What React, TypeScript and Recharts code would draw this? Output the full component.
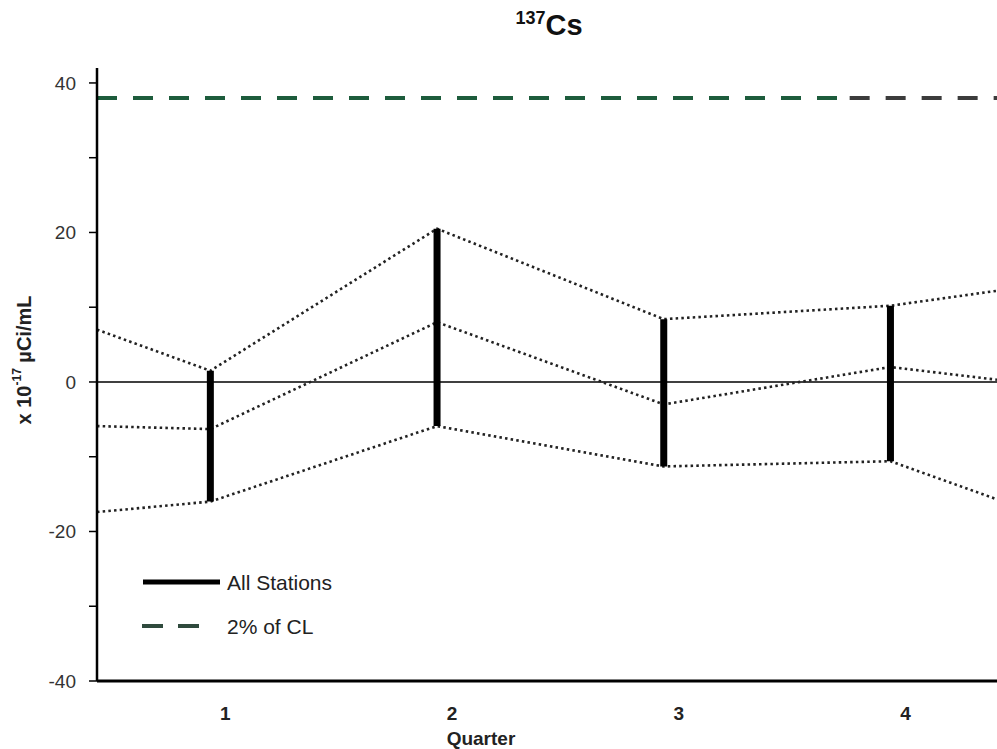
import React from "react";
import {
  ComposedChart,
  Line,
  XAxis,
  YAxis,
  ReferenceLine,
  Legend,
} from "recharts";

// quarters with a station range bar
const quarters = [1, 2, 3, 4];
const highs = [1.5, 20.5, 8.4, 10.2];
const lows = [-16, -5.9, -11.3, -10.6];

// dotted trend lines, running past the first and last quarter to the frame edges
const lineX = [0.5, 1, 2, 3, 4, 4.47];
const upperLine = [7, 1.5, 20.5, 8.4, 10.2, 12.2];
const meanLine = [-5.9, -6.3, 8, -3, 2, 0.3];
const lowerLine = [-17.4, -16, -5.9, -11.3, -10.6, -15.7];

// 2% of concentration limit
const clLevel = 38;
const clGreenRange = [0.5, 3.82];
const clGreyRange = [3.82, 4.47];

const yTicks = [-40, -30, -20, -10, 0, 10, 20, 30, 40];
const xDomain = [0.5, 4.47];
const yDomain = [-40, 42];

const legendItems = [
  { label: "All Stations", kind: "solid" },
  { label: "2% of CL", kind: "dashed" },
];

const FONT = "'Liberation Sans', Arial, sans-serif";
const GREEN = "#1d5c3c";

const data = lineX.map((x, i) => ({
  x,
  upper: upperLine[i],
  mean: meanLine[i],
  lower: lowerLine[i],
}));

function YTick(props: any) {
  const { x, y, payload } = props;
  if (payload.value % 20 !== 0) return null;
  return (
    <text
      x={x - 11}
      y={y}
      dy="0.36em"
      textAnchor="end"
      fontSize={19}
      fill="#333"
      fontFamily={FONT}
    >
      {payload.value}
    </text>
  );
}

function XTick(props: any) {
  const { x, y, payload } = props;
  return (
    <text
      x={x + 15}
      y={y + 31}
      textAnchor="middle"
      fontSize={19}
      fontWeight="bold"
      fill="#222"
      fontFamily={FONT}
    >
      {payload.value}
    </text>
  );
}

function XLabel() {
  return (
    <text
      x={481}
      y={745}
      textAnchor="middle"
      fontSize={19}
      fontWeight="bold"
      fill="#222"
      fontFamily={FONT}
    >
      Quarter
    </text>
  );
}

function YLabel(props: any) {
  const vb = props.viewBox || { x: 37, y: 68, width: 60, height: 613 };
  const cx = vb.x - 13;
  const cy = 360;
  return (
    <text
      x={cx}
      y={cy}
      transform={`rotate(-90, ${cx}, ${cy})`}
      textAnchor="middle"
      dominantBaseline="central"
      fontSize={20}
      fontWeight="bold"
      fill="#222"
      fontFamily={FONT}
    >
      <tspan>x 10</tspan>
      <tspan fontSize={12} dy={-7}>
        -17
      </tspan>
      <tspan dy={7}> µCi/mL</tspan>
    </text>
  );
}

function LegendBox() {
  return (
    <svg width={260} height={70} style={{ display: "block" }}>
      {legendItems.map((item, i) => {
        const y = 12 + i * 44;
        return (
          <g key={item.label}>
            {item.kind === "solid" ? (
              <line x1={3} x2={80} y1={y} y2={y} stroke="#000" strokeWidth={5} />
            ) : (
              <line
                x1={2}
                x2={60}
                y1={y}
                y2={y}
                stroke="#2f4a3d"
                strokeWidth={4}
                strokeDasharray="21 15"
              />
            )}
            <text
              x={87}
              y={y}
              dy="0.36em"
              fontSize={21}
              fill="#222"
              fontFamily={FONT}
            >
              {item.label}
            </text>
          </g>
        );
      })}
    </svg>
  );
}

export default function App() {
  return (
    <div
      style={{
        position: "absolute",
        left: 0,
        top: 0,
        width: 997,
        height: 749,
        background: "#fff",
        overflow: "hidden",
      }}
    >
      <div
        style={{
          position: "absolute",
          left: 449,
          width: 200,
          top: 8,
          textAlign: "center",
          fontFamily: FONT,
          fontWeight: "bold",
          color: "#111",
          zIndex: 2,
        }}
      >
        <span style={{ fontSize: 18, verticalAlign: "11px" }}>137</span>
        <span style={{ fontSize: 29 }}>Cs</span>
      </div>
      <ComposedChart
        width={997}
        height={749}
        data={data}
        margin={{ top: 68, right: 0, bottom: 0, left: 37 }}
      >
        <XAxis
          xAxisId="top"
          orientation="top"
          dataKey="x"
          type="number"
          domain={xDomain}
          allowDataOverflow
          height={0}
          tick={false}
          tickLine={false}
          axisLine={{ stroke: "#000", strokeWidth: 2.5 }}
        />
        <XAxis
          dataKey="x"
          type="number"
          domain={xDomain}
          ticks={quarters}
          allowDataOverflow
          height={68}
          tickLine={false}
          tick={<XTick />}
          axisLine={{ stroke: "#000", strokeWidth: 3 }}
          label={<XLabel />}
        />
        <YAxis
          type="number"
          domain={yDomain}
          ticks={yTicks}
          allowDataOverflow
          width={60}
          tickSize={8}
          tickLine={{ stroke: "#000", strokeWidth: 1.5 }}
          tick={<YTick />}
          axisLine={{ stroke: "#000", strokeWidth: 2.5 }}
          label={<YLabel />}
        />
        <ReferenceLine y={0} stroke="#000" strokeWidth={1.5} />
        <ReferenceLine
          segment={[
            { x: clGreenRange[0], y: clLevel },
            { x: clGreenRange[1], y: clLevel },
          ]}
          stroke={GREEN}
          strokeWidth={4}
          strokeDasharray="20 16"
        />
        <ReferenceLine
          segment={[
            { x: clGreyRange[0], y: clLevel },
            { x: clGreyRange[1], y: clLevel },
          ]}
          stroke="#3c3c3c"
          strokeWidth={4}
          strokeDasharray="20 16"
        />
        {["upper", "mean", "lower"].map((key) => (
          <Line
            key={key}
            dataKey={key}
            type="linear"
            stroke="#222"
            strokeWidth={2.6}
            strokeDasharray="2.5 3.2"
            dot={false}
            activeDot={false}
            isAnimationActive={false}
          />
        ))}
        {quarters.map((q, i) => (
          <ReferenceLine
            key={q}
            segment={[
              { x: q, y: lows[i] },
              { x: q, y: highs[i] },
            ]}
            stroke="#000"
            strokeWidth={7}
          />
        ))}
        <Legend
          layout="vertical"
          align="center"
          verticalAlign="middle"
          content={() => <LegendBox />}
          wrapperStyle={{ left: 140, top: 570, width: 260 }}
        />
      </ComposedChart>
    </div>
  );
}
